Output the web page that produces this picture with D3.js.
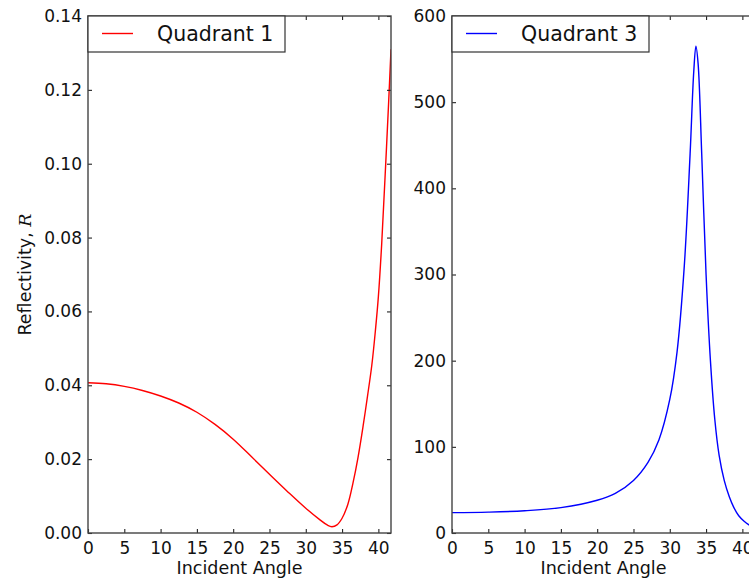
<!DOCTYPE html>
<html>
<head>
<meta charset="utf-8">
<script src="https://cdn.jsdelivr.net/npm/d3@7"></script>
<style>
  html, body { margin: 0; padding: 0; background: #fff; overflow: hidden; }
  svg { display: block; font-family: "DejaVu Sans", sans-serif; }
</style>
</head>
<body>
<svg id="chart" width="749" height="579"></svg>
<script>
// ---- data ----
const angle1 = [0, 2.5, 5, 7.5, 10, 12.5, 15, 17.5, 20, 22.5, 25, 27.5, 30, 32, 33, 33.6, 34.3, 35, 35.8, 36.5, 37.2, 37.9, 38.5, 39.1, 39.6, 40, 40.45, 40.9, 41.4, 41.74];
const quadrant1 = [0.0407, 0.0404, 0.0397, 0.0386, 0.0371, 0.0352, 0.0327, 0.0294, 0.0254, 0.0207, 0.0159, 0.0112, 0.0067, 0.0035, 0.0021, 0.0017, 0.0022, 0.0040, 0.0078, 0.0135, 0.0205, 0.0290, 0.0370, 0.0455, 0.0550, 0.0640, 0.0780, 0.0955, 0.1160, 0.1310];

const angle3 = [0, 5, 10, 15, 20, 22.5, 25, 27, 28.5, 30, 31, 32, 32.8, 33.3, 33.6, 33.9, 34.4, 35, 35.6, 36.2, 36.8, 37.5, 38.2, 38.8, 39.5, 40.2, 41, 41.74];
const quadrant3 = [23.6, 24.2, 25.8, 29.5, 38, 46, 61, 82, 108, 155, 210, 310, 440, 535, 565, 545, 440, 300, 200, 132, 90, 61, 42, 30, 20, 14, 9, 6];

const xTicks = [0, 5, 10, 15, 20, 25, 30, 35, 40];
const yTicks1 = [0.00, 0.02, 0.04, 0.06, 0.08, 0.10, 0.12, 0.14];
const yTicks3 = [0, 100, 200, 300, 400, 500, 600];
const labels = { x: "Incident Angle", y: "Reflectivity, ", yItalic: "R", legend1: "Quadrant 1", legend3: "Quadrant 3" };

// ---- drawing ----
const svg = d3.select("#chart");
const plotTop = 16, plotBottom = 533;
const tickFont = 17, labelFont = 17.5, legendFont = 20.5;

function panel(opts) {
  const x = d3.scaleLinear().domain([0, 41.74]).range([opts.left, opts.right]);
  const y = d3.scaleLinear().domain(opts.yDomain).range([plotBottom, plotTop]);
  const g = svg.append("g");

  const data = opts.xs.map((d, i) => [d, opts.ys[i]]);
  const cid = "clip" + opts.id;
  svg.append("clipPath").attr("id", cid).append("rect")
    .attr("x", opts.left).attr("y", plotTop).attr("width", opts.right - opts.left).attr("height", plotBottom - plotTop);

  g.append("path").datum(data)
    .attr("clip-path", `url(#${cid})`)
    .attr("fill", "none").attr("stroke", opts.color).attr("stroke-width", 1.4)
    .attr("d", d3.line().x(d => x(d[0])).y(d => y(d[1])).curve(d3.curveCatmullRom.alpha(0.5)));

  const styleAxis = sel => {
    sel.select(".domain").remove();
    sel.selectAll("line").attr("stroke", "#222").attr("stroke-width", 1.1);
    sel.selectAll("text").attr("fill", "#111").attr("font-size", tickFont).attr("font-family", "DejaVu Sans");
  };

  g.append("g").attr("transform", `translate(0,${plotBottom})`)
    .call(d3.axisBottom(x).tickValues(xTicks).tickSizeInner(-4).tickSizeOuter(0).tickPadding(9).tickFormat(d3.format("d")))
    .call(styleAxis);
  g.append("g").attr("transform", `translate(0,${plotTop})`)
    .call(d3.axisTop(x).tickValues(xTicks).tickSizeInner(-4).tickSizeOuter(0).tickFormat(""))
    .call(styleAxis);
  g.append("g").attr("transform", `translate(${opts.left},0)`)
    .call(d3.axisLeft(y).tickValues(opts.yTicks).tickSizeInner(-4).tickSizeOuter(0).tickPadding(6).tickFormat(opts.yFormat))
    .call(styleAxis);
  g.append("g").attr("transform", `translate(${opts.right},0)`)
    .call(d3.axisRight(y).tickValues(opts.yTicks).tickSizeInner(-4).tickSizeOuter(0).tickFormat(""))
    .call(styleAxis);

  g.append("rect").attr("x", opts.left).attr("y", plotTop)
    .attr("width", opts.right - opts.left).attr("height", plotBottom - plotTop)
    .attr("fill", "none").attr("stroke", "#444").attr("stroke-width", 1.4);

  g.append("text").attr("x", (opts.left + opts.right) / 2).attr("y", 574)
    .attr("text-anchor", "middle").attr("font-size", labelFont).attr("fill", "#111")
    .text(labels.x);

  const lg = g.append("g");
  lg.append("rect").attr("x", opts.left).attr("y", plotTop)
    .attr("width", 197).attr("height", 36)
    .attr("fill", "#fff").attr("stroke", "#333").attr("stroke-width", 1.2);
  lg.append("line").attr("x1", opts.left + 14).attr("x2", opts.left + 45)
    .attr("y1", plotTop + 17.5).attr("y2", plotTop + 17.5)
    .attr("stroke", opts.color).attr("stroke-width", 1.4);
  lg.append("text").attr("x", opts.left + 69).attr("y", plotTop + 25)
    .attr("font-size", legendFont).attr("fill", "#111").text(opts.legend);
}

panel({ id: 1, left: 88, right: 391, yDomain: [0, 0.14], yTicks: yTicks1, yFormat: d3.format(".2f"),
        xs: angle1, ys: quadrant1, color: "#ff0000", legend: labels.legend1 });
panel({ id: 3, left: 452, right: 755, yDomain: [0, 600], yTicks: yTicks3, yFormat: d3.format("d"),
        xs: angle3, ys: quadrant3, color: "#0000ff", legend: labels.legend3 });

const yl = svg.append("text")
  .attr("transform", `translate(31,${(plotTop + plotBottom) / 2}) rotate(-90)`)
  .attr("text-anchor", "middle").attr("font-size", labelFont).attr("fill", "#111");
yl.append("tspan").text(labels.y);
yl.append("tspan").attr("font-style", "italic").attr("font-family", "DejaVu Serif").text(labels.yItalic);
</script>
</body>
</html>
